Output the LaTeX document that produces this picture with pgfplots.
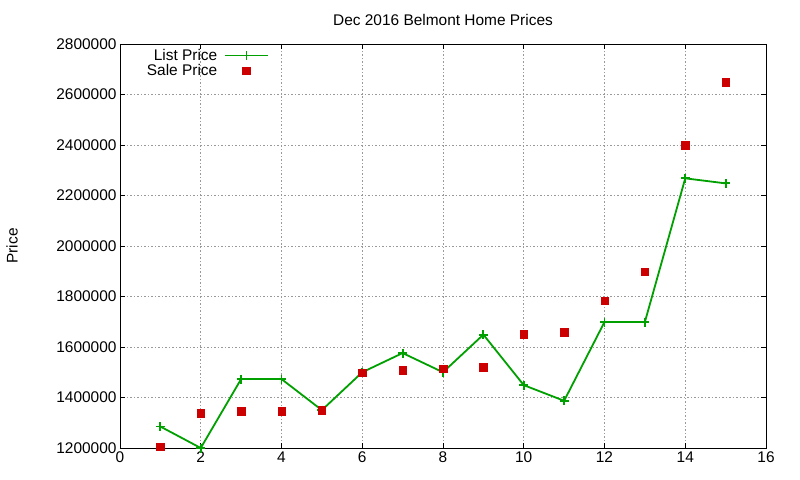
\documentclass[border=0pt]{standalone}
\usepackage{pgfplots}
\pgfplotsset{compat=1.18}
\usepackage{fontspec}
\setmainfont{Liberation Sans}

\definecolor{listgreen}{RGB}{0,160,0}
\definecolor{salered}{RGB}{204,0,0}

\pgfplotsset{
  wide legend/.style={legend image code/.code={%
    \draw[mark repeat=2,mark phase=2,##1] plot coordinates {(0cm,0cm) (0.75cm,0cm) (1.5cm,0cm)};}},
}

\begin{document}
\begin{tikzpicture}[font=\fontsize{15.5}{17}\selectfont]
% page is 800x480 bp, axis box sits at 120..766 x 32..436
\path[use as bounding box] (-120bp,-32bp) rectangle (680bp,448bp);
\begin{axis}[
  scale only axis, width=646bp, height=404bp,
  xmin=0, xmax=16, ymin=1200000, ymax=2800000,
  xtick={0,2,4,6,8,10,12,14,16},
  ytick={1200000,1400000,1600000,1800000,2000000,2200000,2400000,2600000,2800000},
  scaled y ticks=false,
  yticklabel style={/pgf/number format/.cd, fixed, 1000 sep={}},
  /pgf/number format/assume math mode=true,
  tick align=inside, major tick length=5bp,
  tick style={black, line width=0.8bp},
  grid=major,
  major grid style={gray!80, dash pattern=on 1.5bp off 2bp, line width=0.6bp},
  axis line style={line width=0.8bp},
  title={Dec 2016 Belmont Home Prices},
  title style={at={(0.5,1)}, anchor=center, yshift=18bp},
  ylabel={Price},
  every axis y label/.style={at={(axis description cs:-0.167,0.5)}, rotate=90, anchor=center},
  legend style={at={(rel axis cs:0.235,0.995)}, anchor=north east, draw=none, fill=none,
    legend cell align=right, row sep=0.5bp, column sep=6bp, nodes={inner sep=1bp}},
  legend plot pos=right,
]
\addplot[color=listgreen, line width=1.8bp, mark=+, mark size=4.5bp, wide legend]
  coordinates {
  (1,1285000) (2,1200000) (3,1473000) (4,1473000) (5,1350000)
  (6,1500000) (7,1576000) (8,1500000) (9,1649000) (10,1449000)
  (11,1387000) (12,1699000) (13,1699000) (14,2268000) (15,2248000)
};
\addlegendentry{List Price}
\addplot[only marks, color=salered, mark=square*, mark size=3.8bp, wide legend]
  coordinates {
  (1,1205000) (2,1338000) (3,1345000) (4,1345000) (5,1349000)
  (6,1499000) (7,1507000) (8,1514000) (9,1519000) (10,1650000)
  (11,1658000) (12,1784000) (13,1899000) (14,2399000) (15,2649000)
};
\addlegendentry{Sale Price}
\end{axis}
\end{tikzpicture}
\end{document}
